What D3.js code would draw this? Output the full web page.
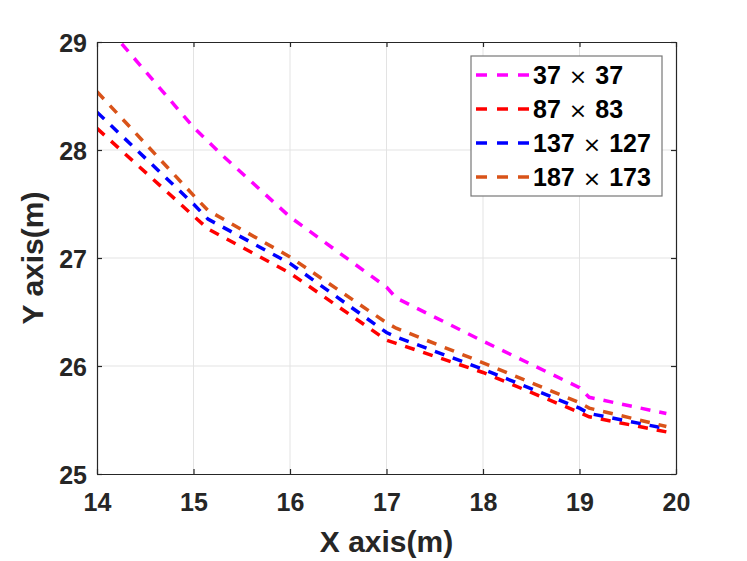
<!DOCTYPE html>
<html>
<head>
<meta charset="utf-8">
<script src="https://d3js.org/d3.v7.min.js"></script>
<style>
  body { margin: 0; background: #fff; }
  text { font-family: "Liberation Sans", Arial, sans-serif; font-weight: bold; fill: #262626; }
</style>
</head>
<body>
<script>
// data
var xsMain = [14, 15, 15.15, 16, 17, 17.1, 18, 19, 19.1, 19.9];
var xsTop = [14, 15, 15.3, 16, 17, 17.1, 18, 19, 19.1, 19.9];
var y37 = [29.25, 28.21, 27.95, 27.38, 26.73, 26.63, 26.23, 25.80, 25.71, 25.56];
var y87 = [28.20, 27.39, 27.27, 26.86, 26.24, 26.21, 25.94, 25.57, 25.53, 25.39];
var y137 = [28.35, 27.50, 27.36, 26.95, 26.31, 26.27, 25.97, 25.61, 25.56, 25.42];
var y187 = [28.54, 27.58, 27.44, 27.01, 26.40, 26.35, 26.03, 25.66, 25.61, 25.44];
var labelA = ["37", "87", "137", "187"];
var labelB = ["37", "83", "127", "173"];
var colors = ["#ff00ff", "#ff0000", "#0000ff", "#d95319"];
var xTicks = [14, 15, 16, 17, 18, 19, 20];
var yTicks = [25, 26, 27, 28, 29];

var series = [
  {x: xsTop, y: y37},
  {x: xsMain, y: y87},
  {x: xsMain, y: y137},
  {x: xsMain, y: y187}
];

var W = 747, H = 561;
var margin = {top: 42, right: 71, bottom: 87, left: 97};
var width = W - margin.left - margin.right;
var height = H - margin.top - margin.bottom;

var svg = d3.select("body").append("svg")
    .attr("width", W)
    .attr("height", H);

svg.append("defs").append("clipPath").attr("id", "clip")
  .append("rect").attr("width", width).attr("height", height);

var g = svg.append("g")
    .attr("transform", "translate(" + margin.left + "," + margin.top + ")");

var x = d3.scaleLinear().domain([14, 20]).range([0, width]);
var y = d3.scaleLinear().domain([25, 29]).range([height, 0]);

// grid
g.append("g").selectAll("line").data(xTicks.slice(1, -1)).enter().append("line")
  .attr("x1", d => x(d)).attr("x2", d => x(d))
  .attr("y1", 0).attr("y2", height)
  .style("stroke", "#e3e3e3").style("stroke-width", 1);
g.append("g").selectAll("line").data(yTicks.slice(1, -1)).enter().append("line")
  .attr("y1", d => y(d)).attr("y2", d => y(d))
  .attr("x1", 0).attr("x2", width)
  .style("stroke", "#e3e3e3").style("stroke-width", 1);

// lines
var line = d3.line();
var plot = g.append("g").attr("clip-path", "url(#clip)");
series.forEach(function(s, i) {
  plot.append("path")
    .datum(s.x.map((v, j) => [x(v), y(s.y[j])]))
    .attr("d", line)
    .style("fill", "none")
    .style("stroke", colors[i])
    .style("stroke-width", 3.5)
    .style("stroke-dasharray", "10,9");
});

// axes
var fmt = d3.format("d");
var xAxis = g.append("g").attr("transform", "translate(0," + height + ")")
  .call(d3.axisBottom(x).tickValues(xTicks).tickFormat(fmt).tickSizeInner(-5).tickSizeOuter(0).tickPadding(19));
var yAxis = g.append("g")
  .call(d3.axisLeft(y).tickValues(yTicks).tickFormat(fmt).tickSizeInner(-5).tickSizeOuter(0).tickPadding(10));
g.append("g")
  .call(d3.axisTop(x).tickValues(xTicks).tickSizeInner(-5).tickSizeOuter(0).tickFormat(""));
g.append("g").attr("transform", "translate(" + width + ",0)")
  .call(d3.axisRight(y).tickValues(yTicks).tickSizeInner(-5).tickSizeOuter(0).tickFormat(""));

g.selectAll(".domain, .tick line").style("stroke", "#262626").style("stroke-width", 1.2);
g.selectAll(".tick text").style("font-family", "'Liberation Sans', Arial, sans-serif")
  .style("font-weight", "bold").style("fill", "#262626").style("font-size", "25px");
yAxis.selectAll(".tick text").attr("dy", "0.36em");

// axis labels
svg.append("text")
  .attr("x", margin.left + width / 2).attr("y", 552)
  .attr("text-anchor", "middle")
  .style("font-size", "30px")
  .text("X axis(m)");
svg.append("text")
  .attr("transform", "translate(43," + (margin.top + height / 2) + ") rotate(-90)")
  .attr("text-anchor", "middle")
  .style("font-size", "30px")
  .text("Y axis(m)");

// legend
var lg = svg.append("g").attr("transform", "translate(471,56)");
lg.append("rect").attr("width", 191).attr("height", 140)
  .style("fill", "#fff").style("stroke", "#777").style("stroke-width", 1.2);
labelA.forEach(function(a, i) {
  var cy = 19 + i * 34;
  lg.append("line").attr("x1", 5).attr("x2", 58).attr("y1", cy).attr("y2", cy)
    .style("stroke", colors[i]).style("stroke-width", 3.5).style("stroke-dasharray", "11,10");
  var t = lg.append("text").attr("x", 62).attr("y", cy).attr("dy", "0.36em")
    .style("font-size", "25px").style("fill", "#000");
  t.append("tspan").text(a);
  t.append("tspan").attr("dx", 8).style("font-weight", "normal").style("font-family", "'DejaVu Sans', sans-serif")
    .style("font-size", "22px").text("\u00d7");
  t.append("tspan").attr("dx", 8).text(labelB[i]);
});
</script>
</body>
</html>
